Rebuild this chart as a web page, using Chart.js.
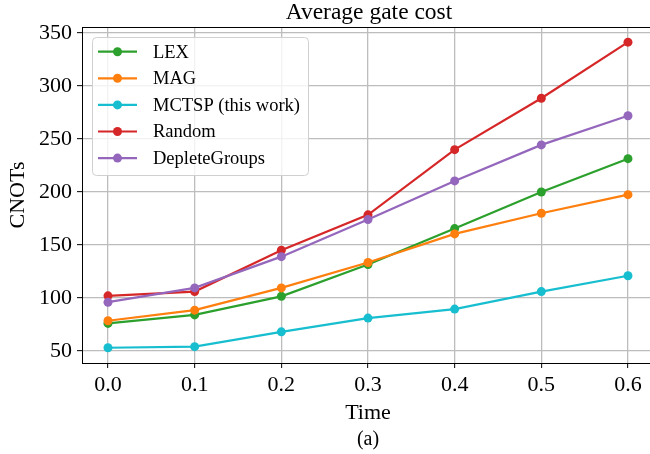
<!DOCTYPE html>
<html>
<head>
<meta charset="utf-8">
<script src="https://cdn.jsdelivr.net/npm/chart.js@4.4.1/dist/chart.umd.min.js"></script>
<style>
  html, body { margin: 0; padding: 0; background: #fff; overflow: hidden; }
</style>
</head>
<body>
<canvas id="gateChart" width="650" height="454"></canvas>
<script>
const times = [0.0, 0.1, 0.2, 0.3, 0.4, 0.5, 0.6];
const lexCost = [76, 84, 101.5, 131.5, 165.5, 200, 231.5];
const magCost = [78.5, 88.5, 109.5, 133.5, 160.5, 180, 197.5];
const mctspCost = [53, 54, 68, 81, 89.5, 106, 121];
const randomCost = [102, 106, 145, 178.5, 240, 288.5, 341.5];
const depleteCost = [96, 109.5, 139, 174, 210.5, 244.5, 272];

const seriesNames = ['LEX', 'MAG', 'MCTSP (this work)', 'Random', 'DepleteGroups'];
const seriesValues = [lexCost, magCost, mctspCost, randomCost, depleteCost];
const seriesColors = ['#2ca02c', '#ff7f0e', '#17becf', '#d62728', '#9467bd'];

const xTicks = [0.0, 0.1, 0.2, 0.3, 0.4, 0.5, 0.6];
const yTicks = [50, 100, 150, 200, 250, 300, 350];

const FONT = '"Liberation Serif", "DejaVu Serif", serif';

// title, axis labels, top spine and legend box (matplotlib style)
const decorations = {
  id: 'decorations',
  afterDatasetsDraw(chart) {
    const ctx = chart.ctx;
    const area = chart.chartArea;
    ctx.save();

    // top spine
    ctx.strokeStyle = '#000';
    ctx.lineWidth = 1;
    ctx.beginPath();
    ctx.moveTo(area.left, area.top + 0.5);
    ctx.lineTo(area.right, area.top + 0.5);
    ctx.stroke();

    // legend
    const lx = 92, ly = 37, lw = 216, lh = 138;
    ctx.beginPath();
    ctx.roundRect(lx + 0.5, ly + 0.5, lw, lh, 4);
    ctx.fillStyle = 'rgba(255,255,255,0.8)';
    ctx.fill();
    ctx.strokeStyle = '#d0d0d0';
    ctx.stroke();

    ctx.font = '18.5px ' + FONT;
    ctx.textBaseline = 'middle';
    ctx.textAlign = 'left';
    seriesNames.forEach((name, i) => {
      const y = 51.7 + i * 26.6;
      ctx.strokeStyle = seriesColors[i];
      ctx.lineWidth = 2.2;
      ctx.beginPath();
      ctx.moveTo(98, y);
      ctx.lineTo(137, y);
      ctx.stroke();
      ctx.fillStyle = seriesColors[i];
      ctx.beginPath();
      ctx.arc(117.5, y, 4.5, 0, Math.PI * 2);
      ctx.fill();
      ctx.fillStyle = '#000';
      ctx.fillText(name, 153, y + 1);
    });

    // texts
    ctx.fillStyle = '#000';
    ctx.textAlign = 'center';
    ctx.textBaseline = 'alphabetic';
    const cx = 368;
    ctx.font = '23.5px ' + FONT;
    ctx.fillText('Average gate cost', cx + 1, 19);
    ctx.font = '22px ' + FONT;
    ctx.fillText('Time', cx, 419);
    ctx.font = '20px ' + FONT;
    ctx.fillText('(a)', cx, 445);

    ctx.font = '22px ' + FONT;
    ctx.translate(24, (area.top + area.bottom) / 2);
    ctx.rotate(-Math.PI / 2);
    ctx.fillText('CNOTs', 0, 0);
    ctx.restore();
  }
};

const datasets = seriesNames.map((name, i) => ({
  label: name,
  data: times.map((t, j) => ({ x: t, y: seriesValues[i][j] })),
  borderColor: seriesColors[i],
  backgroundColor: seriesColors[i],
  pointBackgroundColor: seriesColors[i],
  pointBorderWidth: 0,
  pointRadius: 4.5,
  borderWidth: 2.2,
  order: seriesNames.length - i
}));

const ctx = document.getElementById('gateChart').getContext('2d');
const gateChart = new Chart(ctx, {
  type: 'line',
  data: { datasets },
  options: {
    responsive: false,
    animation: false,
    layout: { autoPadding: false, padding: { top: 27, right: 0, left: 0, bottom: 0 } },
    plugins: {
      legend: { display: false },
      title: { display: false },
      tooltip: { enabled: false }
    },
    scales: {
      x: {
        type: 'linear',
        min: -0.03,
        max: 0.6254,
        afterBuildTicks: axis => { axis.ticks = xTicks.map(v => ({ value: v })); },
        afterFit: scale => {
          scale.height = 91;
          scale.paddingLeft = 0;
          scale.paddingRight = 0;
        },
        ticks: {
          color: '#000',
          font: { family: FONT, size: 22 },
          padding: 4,
          maxRotation: 0,
          callback: v => v.toFixed(1)
        },
        grid: { color: '#bdbdbd', lineWidth: 1.3, tickLength: 5, tickColor: '#000', tickWidth: 1 },
        border: { display: true, color: '#000', width: 1 }
      },
      y: {
        min: 38.6,
        max: 355.8,
        afterBuildTicks: axis => { axis.ticks = yTicks.map(v => ({ value: v })); },
        afterFit: scale => {
          scale.width = 82;
          scale.paddingTop = 0;
          scale.paddingBottom = 0;
        },
        ticks: {
          color: '#000',
          font: { family: FONT, size: 22 },
          padding: 5,
          callback: v => String(v)
        },
        grid: { color: '#bdbdbd', lineWidth: 1.3, tickLength: 5, tickColor: '#000', tickWidth: 1 },
        border: { display: true, color: '#000', width: 1 }
      }
    }
  },
  plugins: [decorations]
});
</script>
</body>
</html>
